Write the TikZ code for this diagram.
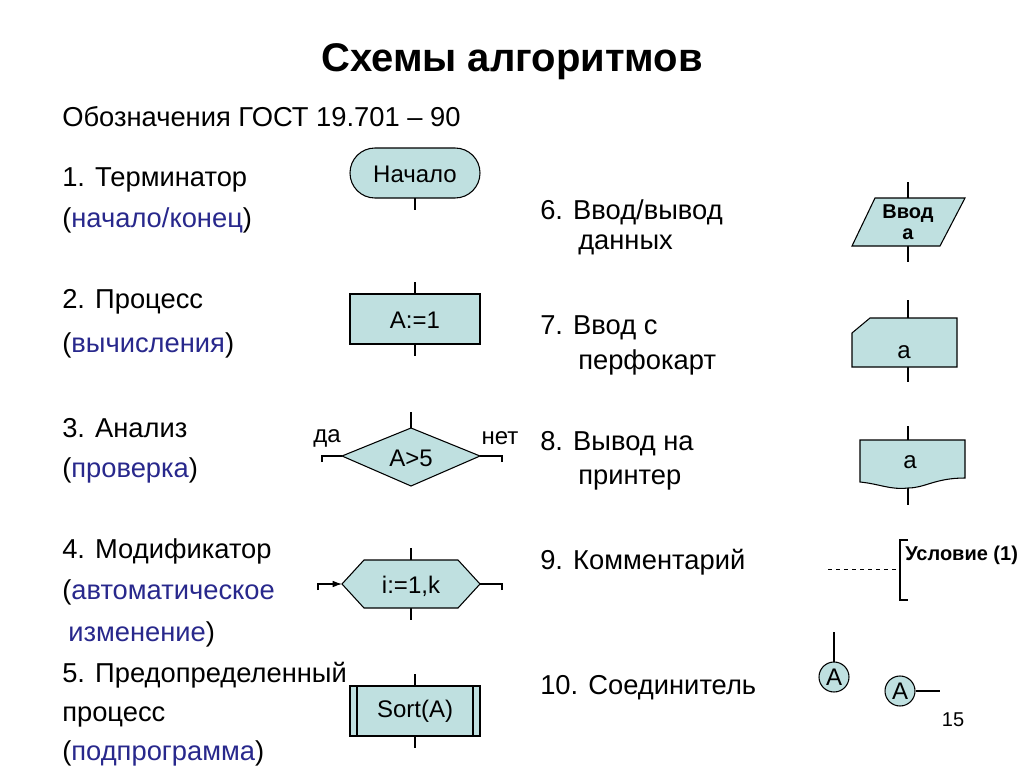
\documentclass[tikz,border=0pt]{standalone}
\usepackage{fontspec}
\setmainfont{Liberation Sans}
\usetikzlibrary{arrows.meta}
\definecolor{fillc}{RGB}{191,224,224}
\definecolor{bluet}{RGB}{40,40,140}
\begin{document}
\begin{tikzpicture}[x=0.75pt,y=-0.75pt,
  body/.style={anchor=west,font=\fontsize{20.5}{24}\selectfont,inner sep=0},
  lbl/.style={font=\fontsize{18}{20}\selectfont,inner sep=0},
  shp/.style={draw,fill=fillc,line width=0.8pt},
  ln/.style={line width=0.8pt}]
\useasboundingbox (0,0) rectangle (1024,767);
\fill[white] (0,0) rectangle (1024,767);
\node[font=\bfseries\fontsize{30}{34}\selectfont] (title) at (512,62) {Схемы алгоритмов};
\node[body] (gost) at (62,117) {Обозначения ГОСТ 19.701 – 90};
% left texts
\node[body] (t1) at (62,180) {1. Терминатор};
\node[body] (t1b) at (62,220) {(\textcolor{bluet}{начало/конец})};
\node[body] (t2) at (62,302) {2. Процесс};
\node[body] (t2b) at (62,345) {(\textcolor{bluet}{вычисления})};
\node[body] (t3) at (62,428) {3. Анализ};
\node[body] (t3b) at (62,470) {(\textcolor{bluet}{проверка})};
\node[body] (t4) at (62,551) {4. Модификатор};
\node[body] (t4b) at (62,592) {(\textcolor{bluet}{автоматическое}};
\node[body] (t4c) at (68,634) {\textcolor{bluet}{изменение})};
\node[body] (t5) at (62,675) {5. Предопределенный};
\node[body] (t5b) at (62,717) {процесс};
\node[body] (t5c) at (62,753) {(\textcolor{bluet}{подпрограмма})};
% right texts
\node[body] (t6) at (540,212) {6. Ввод/вывод};
\node[body] (t6b) at (578,245) {данных};
\node[body] (t7) at (540,328) {7. Ввод с};
\node[body] (t7b) at (578,362) {перфокарт};
\node[body] (t8) at (540,444) {8. Вывод на};
\node[body] (t8b) at (578,480) {принтер};
\node[body] (t9) at (540,562) {9. Комментарий};
\node[body] (t10) at (540,688) {10. Соединитель};
% 1 terminator
\draw[shp,rounded corners=18.7pt] (350,148) rectangle (480,198);
\node[lbl] (s1) at (415,174) {Начало};
\draw[ln] (415,198) -- (415,210);
% 2 process
\draw[ln] (415,282) -- (415,356);
\draw[shp] (350,294) rectangle (480,344);
\node[lbl] (s2) at (415,320) {A:=1};
% 3 diamond
\draw[ln] (411,412) -- (411,428);
\draw[ln] (322,462) -- (322,456) -- (342,456);
\draw[ln] (502,462) -- (502,456) -- (480,456);
\draw[shp] (342,456) -- (411,428) -- (480,456) -- (411,486) -- cycle;
\node[lbl] (s3) at (411,458) {A>5};
\node[lbl] (da) at (327,438) {да};
\node[lbl] (net) at (500,438) {нет};
% 4 hexagon
\draw[ln] (411,548) -- (411,620);
\draw[ln,-{Latex[length=7pt,width=5pt]}] (318,590) -- (318,584) -- (342,584);
\draw[ln] (502,590) -- (502,584) -- (480,584);
\draw[shp] (342,584) -- (364,560) -- (458,560) -- (480,584) -- (458,608) -- (364,608) -- cycle;
\node[lbl] (s4) at (411,586) {i:=1,k};
% 5 predefined
\draw[ln] (415,674) -- (415,748);
\draw[shp] (350,686) rectangle (480,736);
\draw[ln] (357,686) -- (357,736) (473,686) -- (473,736);
\node[lbl] (s5) at (415,711) {Sort(A)};
% 6 parallelogram
\draw[ln] (908,182) -- (908,262);
\draw[shp] (852,246) -- (875,198) -- (965,198) -- (940,246) -- cycle;
\node[lbl,font=\bfseries\fontsize{15}{17}\selectfont,align=center] (s6) at (908,222) {Ввод\\[-1pt]а};
% 7 card
\draw[ln] (908,300) -- (908,382);
\draw[shp] (852,333) -- (870,318) -- (957,318) -- (957,367) -- (852,367) -- cycle;
\node[lbl] (s7) at (904,352) {a};
% 8 document
\draw[ln] (908,426) -- (908,505);
\draw[shp] (860,440) -- (965,440) -- (965,478) .. controls (935,478) and (925,488) .. (908,488) .. controls (890,490) and (880,484) .. (860,482) -- cycle;
\node[lbl] (s8) at (910,462) {a};
% 9 comment
\draw[ln,dashed,line width=0.6pt] (828,569) -- (900,569);
\draw[ln] (908,540) -- (900,540) -- (900,600) -- (908,600);
\node[anchor=west,inner sep=0,font=\bfseries\fontsize{15}{17}\selectfont] (s9) at (905,555) {Условие (1)};
% 10 connectors
\draw[ln] (834,632) -- (834,662);
\node[draw,fill=fillc,circle,line width=0.8pt,minimum size=30*0.75pt,inner sep=0,lbl] (c1) at (834,677) {A};
\node[draw,fill=fillc,circle,line width=0.8pt,minimum size=30*0.75pt,inner sep=0,lbl] (c2) at (900,691) {A};
\draw[ln] (c2.east) -- (940,691);
\node[font=\fontsize{15}{17}\selectfont] (pg) at (953,720) {15};
\end{tikzpicture}
\end{document}
